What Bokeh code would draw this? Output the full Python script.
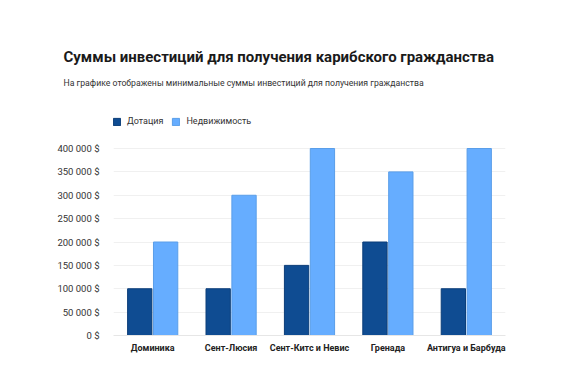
from bokeh.plotting import figure
from bokeh.models import ColumnDataSource, FactorRange, CustomJSTickFormatter, FixedTicker, Range1d, Legend, LegendItem, Title
from bokeh.transform import dodge
from bokeh.embed import file_html
from bokeh.resources import INLINE

countries = ["Доминика", "Сент-Люсия", "Сент-Китс и Невис", "Гренада", "Антигуа и Барбуда"]
grant = [100000, 100000, 150000, 200000, 100000]
realty = [200000, 300000, 400000, 350000, 400000]
yticks = [0, 50000, 100000, 150000, 200000, 250000, 300000, 350000, 400000]

FONT = "Roboto"
src = ColumnDataSource(dict(c=countries, g=grant, r=realty))

W, H = 562, 372
FRAME_TOP = 96
# extend the y range above 400k so the legend fits inside the plot frame
y_end = 400000 * (335 - FRAME_TOP) / (335 - 148)
p = figure(title=None, x_range=FactorRange(*countries, range_padding=0), y_range=Range1d(0, y_end),
           width=W, height=H, output_backend="svg", toolbar_location=None,
           min_border_left=113, min_border_right=57, min_border_top=FRAME_TOP, min_border_bottom=37)
p.outline_line_color = None
r1 = p.vbar(x=dodge("c", -0.165, range=p.x_range), top="g", width=0.31, source=src,
            fill_color="#0f4c92", line_color="#0b3d78", line_width=1)
r2 = p.vbar(x=dodge("c", 0.165, range=p.x_range), top="r", width=0.31, source=src,
            fill_color="#66adff", line_color="#5a9ee9", line_width=1)

p.xgrid.grid_line_color = None
p.ygrid.grid_line_color = "#f0f0f0"
p.yaxis.ticker = FixedTicker(ticks=yticks)
p.yaxis.formatter = CustomJSTickFormatter(code="""
const s = Math.round(tick).toString().replace(/\\B(?=(\\d{3})+(?!\\d))/g, ' ');
return s + ' $';
""")
p.yaxis.axis_line_color = None
p.yaxis.major_tick_line_color = None
p.yaxis.minor_tick_line_color = None
p.yaxis.major_label_text_font = FONT
p.yaxis.major_label_text_font_size = "9.5px"
p.yaxis.major_label_text_color = "#333333"
p.yaxis.major_label_standoff = 8
p.xaxis.axis_line_color = "#e6e6e6"
p.xaxis.major_tick_line_color = None
p.xaxis.minor_tick_line_color = None
p.xaxis.major_label_text_font = FONT
p.xaxis.major_label_text_font_style = "bold"
p.xaxis.major_label_text_font_size = "9px"
p.xaxis.major_label_text_color = "#222222"
p.xaxis.major_label_standoff = 1

legend = Legend(items=[LegendItem(label="Дотация", renderers=[r1]),
                       LegendItem(label="Недвижимость", renderers=[r2])],
                orientation="horizontal", location=(-1, 335 - 126))
legend.label_text_font = FONT
legend.label_text_font_size = "9px"
legend.label_text_color = "#333333"
legend.glyph_width = 9
legend.glyph_height = 9
legend.label_height = 10
legend.label_standoff = 6
legend.spacing = 8
legend.padding = 0
legend.margin = 0
legend.border_line_color = None
legend.background_fill_alpha = 0
p.add_layout(legend)

sub = Title(text="На графике отображены минимальные суммы инвестиций для получения гражданства",
            text_font=FONT, text_font_size="8.7px", text_font_style="normal",
            text_color="#333333", align="left", offset=-50, standoff=18)
p.add_layout(sub, "above")
ttl = Title(text="Суммы инвестиций для получения карибского гражданства",
            text_font=FONT, text_font_size="15px", text_font_style="bold",
            text_color="#1a1a1a", align="left", offset=-50, standoff=1)
p.add_layout(ttl, "above")

open("out.html", "w").write(file_html(p, INLINE))
